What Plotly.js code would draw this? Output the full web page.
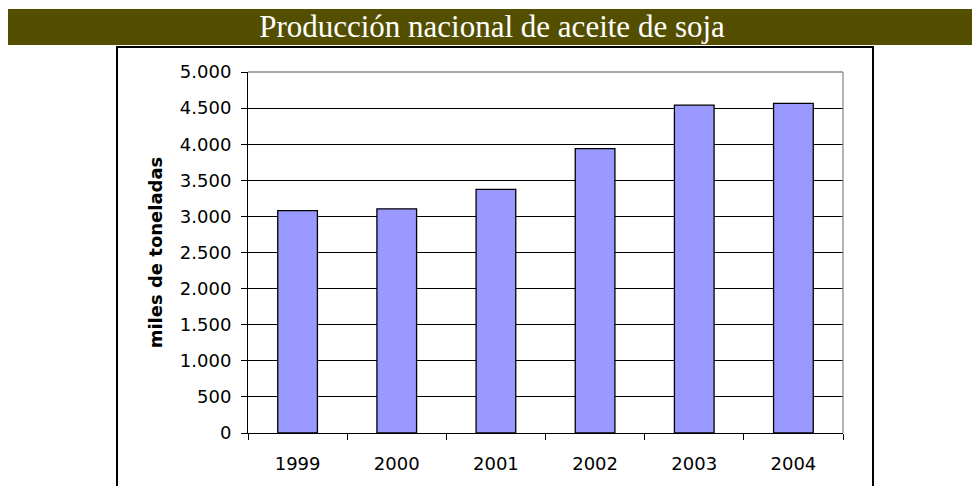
<!DOCTYPE html>
<html>
<head>
<meta charset="utf-8">
<script src="https://cdn.plot.ly/plotly-3.0.1.min.js"></script>
<style>
  html, body { margin: 0; padding: 0; background: #ffffff; }
  #chart { width: 972px; height: 486px; }
</style>
</head>
<body>
<div id="chart"></div>
<script>
// ---- data ----
const years = ["1999", "2000", "2001", "2002", "2003", "2004"];
const produccion = [3080, 3105, 3375, 3940, 4540, 4565];
const chartTitle = "Producción nacional de aceite de soja";
const yTitle = "miles de toneladas";

// ---- layout geometry (pixels) ----
const W = 972, H = 486;
const M = { l: 248, r: 129, t: 72, b: 53 };
const PW = W - M.l - M.r, PH = H - M.t - M.b;
const px = x => (x - M.l) / PW;
const py = y => (H - M.b - y) / PH;

const trace = {
  type: "bar",
  x: years,
  y: produccion,
  marker: { color: "#9999ff", line: { color: "#000000", width: 1.3 } },
  hoverinfo: "x+y"
};

const tickFont = { family: "DejaVu Sans", size: 18, color: "#000000" };

const layout = {
  width: W, height: H,
  margin: M,
  separators: ",.",
  paper_bgcolor: "#ffffff",
  plot_bgcolor: "rgba(0,0,0,0)",
  showlegend: false,
  bargap: 0.6,
  title: {
    text: chartTitle,
    font: { family: "Liberation Serif", size: 31, color: "#ffffff" },
    x: 492 / W, xref: "container", xanchor: "center",
    y: 1 - 26 / H, yref: "container", yanchor: "middle"
  },
  xaxis: {
    type: "category",
    showline: true, linecolor: "#000000", linewidth: 1,
    ticks: "outside", tickson: "boundaries", ticklen: 6, tickcolor: "#000000", tickwidth: 1,
    ticklabelstandoff: 14,
    tickfont: tickFont,
    showgrid: false, zeroline: false
  },
  yaxis: {
    range: [0, 5000],
    dtick: 500, tick0: 0,
    tickformat: ",d",
    showline: true, linecolor: "#000000", linewidth: 1,
    ticks: "outside", ticklen: 6, tickcolor: "#000000", tickwidth: 1,
    ticklabelstandoff: 6,
    tickfont: tickFont,
    showgrid: true, gridcolor: "#000000", gridwidth: 1,
    zeroline: false,
    title: {
      text: yTitle,
      font: { family: "DejaVu Sans", size: 18, color: "#000000", weight: "bold" },
      standoff: 12
    }
  },
  shapes: [
    // olive title band
    { type: "rect", xref: "paper", yref: "paper", layer: "below",
      x0: px(8), x1: px(980), y0: py(45), y1: py(9),
      fillcolor: "#544f00", line: { width: 0 } },
    // outer chart frame
    { type: "rect", xref: "paper", yref: "paper", layer: "below",
      x0: px(117), x1: px(873), y0: py(520), y1: py(47),
      fillcolor: "rgba(0,0,0,0)", line: { color: "#000000", width: 2 } },
    // gray plot-area border (top and right)
    { type: "line", xref: "paper", yref: "paper", layer: "above",
      x0: 0, x1: 1, y0: 1, y1: 1, line: { color: "#8c8c8c", width: 1.3 } },
    { type: "line", xref: "paper", yref: "paper", layer: "above",
      x0: 1, x1: 1, y0: 0, y1: 1, line: { color: "#8c8c8c", width: 1.3 } }
  ]
};

Plotly.newPlot("chart", [trace], layout, { displayModeBar: false, staticPlot: true });
</script>
</body>
</html>
